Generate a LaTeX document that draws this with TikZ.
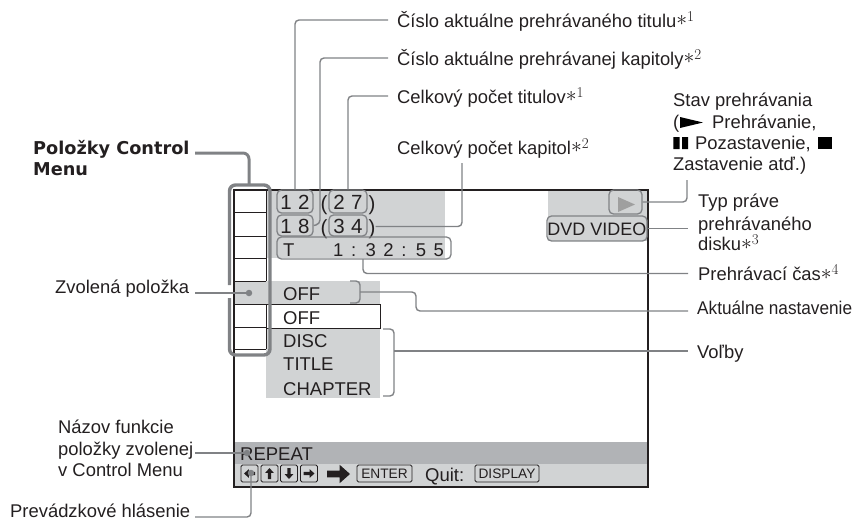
\documentclass[tikz,border=0pt]{standalone}
\usepackage{graphicx}
\usepackage{fontspec}
\setmainfont{Liberation Sans}
\newfontfamily\lmfont{Latin Modern Roman}
\newfontfamily\boldfont{DejaVu Sans}[BoldFont={DejaVu Sans Bold}]
\definecolor{lead}{HTML}{808285}
\definecolor{ink}{HTML}{231F20}
\definecolor{panel}{HTML}{D1D3D4}
\definecolor{band}{HTML}{B1B3B6}
\newcommand{\noteref}[1]{{\lmfont\raisebox{1.5pt}{\scalebox{1.25}{$*$}}\raisebox{6pt}{\fontsize{15}{15}\selectfont #1}}}
\newcommand{\btnarrow}[4]{\fill[ink,shift={(#1,#2)},rotate=#3,scale=#4] (-1,-.3)--(.1,-.3)--(.1,-.8)--(1,0)--(.1,.8)--(.1,.3)--(-1,.3)--cycle;}
\newcommand{\widewords}{\spaceskip=7.6pt\relax}
\newcommand{\countwords}{\spaceskip=6.4pt\relax}
\tikzset{
  lbl/.style={anchor=west,inner sep=0pt,text=ink,font=\fontsize{18.4}{20}\selectfont,text height=14pt,text depth=3pt},
  disp/.style={inner sep=0pt,text=ink,font=\fontsize{18.5}{20}\selectfont,execute at begin node=\widewords,text height=13pt,text depth=0pt},
  dispw/.style={disp,anchor=west},
  rbox/.style={disp,draw=lead,line width=1.3pt,rounded corners=4.5pt,text height=15.5pt},
  cbox/.style={rbox,font=\fontsize{20.5}{22}\selectfont,execute at begin node=\countwords,text height=16.5pt},
  paren/.style={disp,font=\fontsize{20.5}{22}\selectfont,text height=15pt},
  lead line/.style={draw=lead,line width=1.4pt,rounded corners=4pt},
  thick lead/.style={draw=lead,line width=3.4pt,rounded corners=6pt},
  btn/.style={draw=ink,line width=.8pt,rounded corners=1.5pt,inner sep=0pt,minimum height=17pt,text=ink,font=\fontsize{13.7}{14}\selectfont,text height=10pt,text depth=0pt},
  rowline/.style={draw=ink,line width=.9pt},
  frameline/.style={draw=ink,line width=1.5pt},
  dotmark/.style={circle,fill=lead,inner sep=0pt,minimum size=6.5pt},
}
\begin{document}
\begin{tikzpicture}[x=1pt,y=-1pt]
\useasboundingbox (0,0) rectangle (855,520);
% grey panels
\fill[panel] (266,190) rectangle (445,258);
\fill[panel] (548,190) rectangle (647,241);
\fill[panel] (234,281) rectangle (380,304);
\fill[panel] (266,328) rectangle (380,398);
\fill[band] (234,442) rectangle (648,463.5);
\fill[panel] (234,463.5) rectangle (648,487);
% screen frame
\draw[frameline] (234,487) -- (234,190) -- (648,190) -- (648,487) -- cycle;
% control menu column
\draw[rowline] (266,190) -- (266,281) (266,304) -- (266,349);
\foreach \yy in {212,236,258,281,304,327,349} \draw[rowline] (234,\yy) -- (266,\yy);
\draw[draw=ink,line width=1pt] (266,304) -- (380,304) -- (380,328) -- (266,328);
% menu texts
\node[dispw] (off1) at (283,293.5) {OFF};
\node[dispw] (off2) at (283,317.5) {OFF};
\node[dispw] (disc) at (283,340.5) {DISC};
\node[dispw] (title) at (283,364) {TITLE};
\node[dispw] (chapter) at (283,389) {CHAPTER};
\node[dispw] (repeat) at (240,453.5) {REPEAT};
% counters
\node[cbox,minimum width=36pt,minimum height=23pt] (b12) at (295,201.5) {1 2};
\node[cbox,minimum width=38pt,minimum height=23pt] (b27) at (348,201.5) {2 7};
\node[cbox,minimum width=36pt,minimum height=21pt] (b18) at (295,225.5) {1 8};
\node[cbox,minimum width=38pt,minimum height=21pt] (b34) at (348,225.5) {3 4};
\node[paren] (po1) at (324,203) {(};
\node[paren] (pc1) at (372,203) {)};
\node[paren] (po2) at (324,226.5) {(};
\node[paren] (pc2) at (372,226.5) {)};
\node[rbox,minimum width=174pt,minimum height=22pt] (tbox) at (364,248) {};
\node[dispw] (tmark) at (283,250) {T};
\node[dispw] (time) at (333,250) {1 : 3 2 : 5 5};
% status boxes
\node[rbox,minimum width=33pt,minimum height=24pt] (play) at (625.5,202) {};
\fill[gray!75] (618,197) -- (635,204.5) -- (618,212) -- cycle;
\node[rbox,font=\fontsize{18}{20}\selectfont,execute at begin node={\spaceskip=0pt\relax},text height=13pt,minimum width=100pt,minimum height=25pt] (dvd) at (597,228.5) {DVD VIDEO};
% buttons row
\node[btn,minimum width=17pt] (bl) at (249.5,473.5) {};
\node[btn,minimum width=17pt] (bu) at (269.5,473.5) {};
\node[btn,minimum width=17pt] (bd) at (289,473.5) {};
\node[btn,minimum width=17pt] (br) at (309,473.5) {};
\btnarrow{249.5}{473.5}{180}{5.5}
\btnarrow{269.5}{473.5}{90}{5.5}
\btnarrow{289}{473.5}{-90}{5.5}
\btnarrow{309}{473.5}{0}{5.5}
\btnarrow{338.5}{474}{0}{11.5}
\node[btn,minimum width=55pt] (enter) at (384.5,473.5) {ENTER};
\node[dispw] (quit) at (425,475) {Quit:};
\node[btn,minimum width=64pt] (display) at (507,473.5) {DISPLAY};
% labels
\node[lbl] (t1) at (397,21.5) {Číslo aktuálne prehrávaného titulu\noteref{1}};
\node[lbl] (t2) at (397,59.5) {Číslo aktuálne prehrávanej kapitoly\noteref{2}};
\node[lbl] (t3) at (397,97.5) {Celkový počet titulov\noteref{1}};
\node[lbl] (t4) at (397,148.5) {Celkový počet kapitol\noteref{2}};
\node[lbl] (s1) at (673,101) {Stav prehrávania};
\node[lbl] (s2a) at (673,122.5) {(};
\node[lbl] (s2b) at (712,122.5) {Prehrávanie,};
\fill[black] (680,117) -- (703,122.5) -- (680,128) -- cycle;
\fill[black] (673.3,137) rectangle (679.5,149) (682,137) rectangle (688,149);
\node[lbl] (s3) at (695,143.5) {Pozastavenie,};
\fill[black] (818,137) rectangle (832,149);
\node[lbl] (s4) at (673,164.5) {Zastavenie atď.)};
\coordinate (s4foot) at (687,180);
\node[lbl] (d1) at (698,201.5) {Typ práve};
\node[lbl] (d2) at (698,225) {prehrávaného};
\node[lbl] (d3) at (698,245) {disku\noteref{3}};
\node[lbl] (l5) at (698,275) {Prehrávací čas\noteref{4}};
\node[lbl] (l6) at (697,308.5) {\scalebox{.935}[1]{Aktuálne nastavenie}};
\node[lbl] (l7) at (697,352.5) {Voľby};
\node[lbl,font=\boldfont\bfseries\fontsize{17.7}{20}\selectfont] (pm1) at (33,149) {Položky Control};
\node[lbl,font=\boldfont\bfseries\fontsize{17.7}{20}\selectfont] (pm2) at (33,170) {Menu};
\node[lbl] (zv) at (55,287.5) {Zvolená položka};
\node[lbl] (n1) at (58,428) {Názov funkcie};
\node[lbl] (n2) at (58,449.5) {položky zvolenej};
\node[lbl] (n3) at (58,471) {v Control Menu};
\node[lbl] (pr) at (10,512) {Prevádzkové hlásenie};
% thick control-menu bracket
\draw[thick lead] (229.5,285) -- (229.5,185) -- (270,185) -- (270,355) -- (229.5,355) -- (229.5,298);
\coordinate (coltop) at (249,185);
\coordinate (pmstart) at (195,153);
\draw[thick lead,line width=3pt] (pmstart) -- (249,153) -- (coltop);
% selection and pointers
\node[dotmark] (seldot) at (249,293) {};
\coordinate (zvstart) at (195,293);
\draw[lead line] (zvstart) -- (seldot.center);
\node[dotmark] (repdot) at (247,453) {};
\coordinate (n2start) at (195,453);
\draw[lead line] (n2start) -- (repdot.center);
\node[dotmark] (ldot) at (251,473) {};
\coordinate (prstart) at (195,517);
\draw[lead line] (prstart) -| (ldot.center);
% brackets
\draw[lead line] (350,281) -- (360,281) -- (360,303) -- (350,303);
\coordinate (brA) at (360,292);
\draw[lead line] (383,329) -- (394,329) -- (394,396) -- (383,396);
\coordinate (brV) at (394,351);
% leaders
\draw[lead line] ([xshift=-9pt,yshift=1.5pt]t1.west) -| (b12.north);
\coordinate (t2bend) at (320,224);
\draw[lead line] ([xshift=-9pt,yshift=1.5pt]t2.west) -- (320,58) -- (t2bend) -- (b18.east);
\draw[lead line] ([xshift=-9pt,yshift=1.5pt]t3.west) -| (b27.north);
\coordinate (t4foot) at (462,163);
\draw[lead line] (t4foot) |- (pc2.east);
\coordinate (tbfoot) at (363,259);
\coordinate (l5end) at (688,273.5);
\draw[lead line] (tbfoot) |- (l5end);
\coordinate (l6elbow) at (416,311);
\draw[lead line] (brA) -- (416,292) -- (l6elbow) -- ([xshift=-9pt]l6.west |- l6elbow);
\draw[lead line] (brV) -- ([xshift=-9pt]l7.west |- brV);
\draw[lead line] (play.east) -| (s4foot);
\draw[lead line] (dvd.east) -- ([xshift=-10pt]d2.west |- dvd.east);
\end{tikzpicture}
\end{document}
